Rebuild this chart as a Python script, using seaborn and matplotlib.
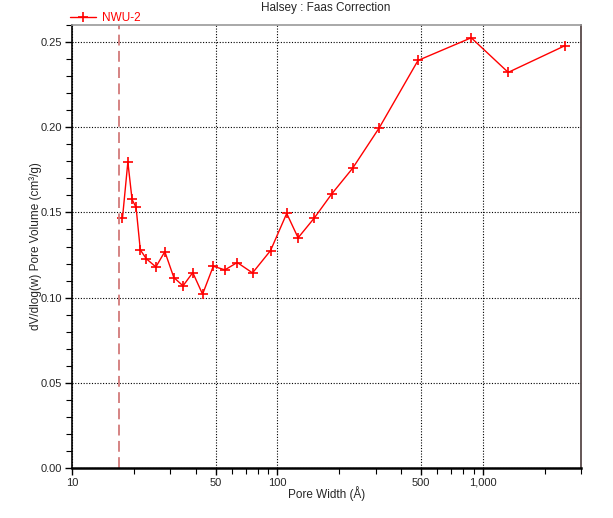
import matplotlib
matplotlib.use("Agg")
import matplotlib.pyplot as plt
import matplotlib.ticker as mticker
import seaborn as sns
import pandas as pd

pore_width = [17.6, 18.7, 19.6, 20.5, 21.5, 23.0, 25.6, 28.3, 31.3, 34.7, 38.7, 43.2,
              48.7, 55.5, 63.7, 75.6, 92.5, 110.9, 126, 151, 183.5, 232, 312.6, 483,
              877, 1327, 2500]
pore_volume = [0.1465, 0.1796, 0.1576, 0.153, 0.128, 0.1228, 0.118, 0.127, 0.1118, 0.1069,
               0.1147, 0.102, 0.1184, 0.1163, 0.1206, 0.1145, 0.1276, 0.1494, 0.1351, 0.1467,
               0.1608, 0.1759, 0.1996, 0.2392, 0.2525, 0.2322, 0.2478]
series_name = "NWU-2"
cutoff_width = 16.9
x_ticks = [10, 50, 100, 500, 1000]
x_tick_labels = ["10", "50", "100", "500", "1,000"]
y_ticks = [0.00, 0.05, 0.10, 0.15, 0.20, 0.25]

df = pd.DataFrame({"w": pore_width, "v": pore_volume, "s": series_name})

sns.set_style("white")
plt.rcParams["font.family"] = ["Liberation Sans", "DejaVu Sans"]

fig = plt.figure(figsize=(6.13, 5.18), dpi=100)
ax = fig.add_axes([72 / 613, 1 - 468 / 518, (581 - 72) / 613, (468 - 25) / 518])

sns.lineplot(data=df, x="w", y="v", color="#ff0000", linewidth=1.0, marker="+",
             markersize=7, markeredgewidth=1.2, markeredgecolor="#ff0000",
             ax=ax, legend=False, sort=False)

ax.set_xscale("log")
ax.set_xlim(10, 3000)
ax.set_ylim(0, 0.26)

ax.axvline(cutoff_width, color="#d27a7a", linestyle=(0, (6, 3)), linewidth=1.3)

ax.set_xticks(x_ticks)
ax.set_xticklabels(x_tick_labels)
ax.xaxis.set_minor_locator(mticker.LogLocator(base=10, subs=range(2, 10), numticks=20))
ax.xaxis.set_minor_formatter(mticker.NullFormatter())
ax.set_yticks(y_ticks)
ax.yaxis.set_major_formatter(mticker.FormatStrFormatter("%.2f"))
ax.yaxis.set_minor_locator(mticker.MultipleLocator(0.01))

ax.tick_params(axis="both", which="major", direction="out", length=5, width=1,
               labelsize=8, color="black", pad=2, bottom=True, left=True)
ax.tick_params(axis="both", which="minor", direction="out", length=4, width=0.8,
               color="black", bottom=True, left=True)

ax.grid(True, which="major", color="black", linestyle=(0, (1, 1.5)), linewidth=0.8)
ax.set_axisbelow(True)

for side in ["left", "bottom"]:
    ax.spines[side].set_color("black")
    ax.spines[side].set_linewidth(1.2)
ax.spines["bottom"].set_linewidth(1.8)
ax.spines["top"].set_color("#999999")
ax.spines["top"].set_linewidth(1.2)
ax.spines["right"].set_color("#4a3a3a")
ax.spines["right"].set_linewidth(1.2)

ax.set_xlabel("Pore Width (Å)", fontsize=8.5, labelpad=-1)
ax.set_ylabel("dV/dlog(w) Pore Volume (cm³/g)", fontsize=8.5, labelpad=-1)
fig.text(326 / 613, 1 - 8 / 518, "Halsey : Faas Correction", ha="center", va="center",
         fontsize=8.5)

handle, = ax.plot([], [], color="#ff0000", marker="+", markersize=7,
                  markeredgewidth=1.2, linewidth=1.0)
leg = fig.legend([handle], [series_name], loc="center left",
                 bbox_to_anchor=(64 / 613, 1 - 18 / 518), frameon=False,
                 fontsize=8.5, handlelength=2.2, handletextpad=0.5, borderpad=0)
for t in leg.get_texts():
    t.set_color("#ff0000")

fig.savefig("out.png", dpi=100)
